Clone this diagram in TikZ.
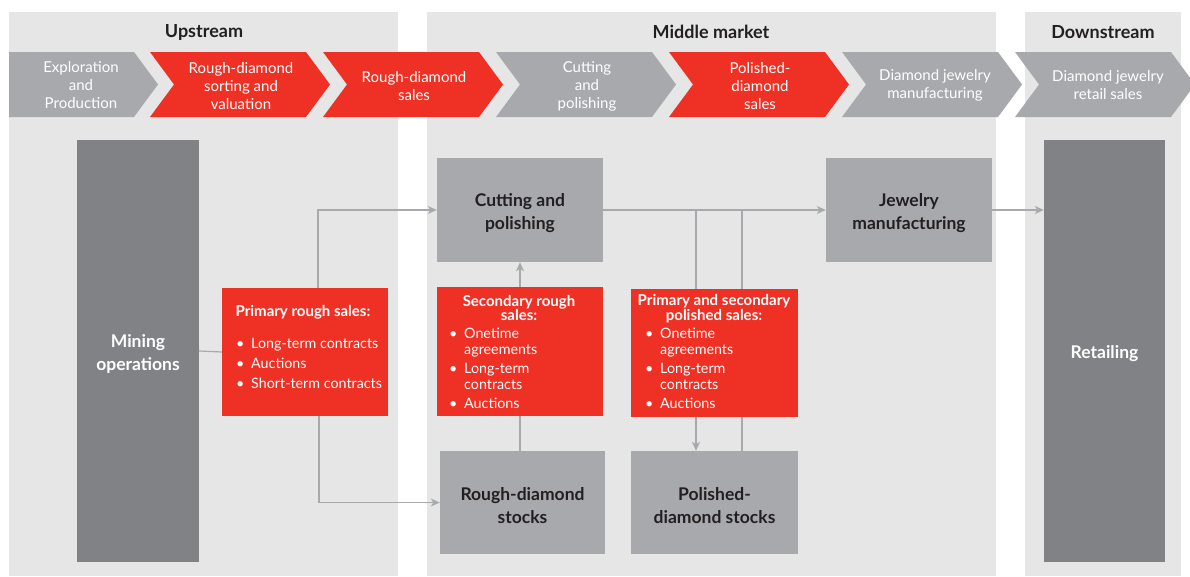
\documentclass[tikz,border=0pt]{standalone}
\usepackage{fontspec}
\setmainfont{Lato}
\usetikzlibrary{arrows.meta}
\definecolor{panel}{HTML}{E6E6E7}
\definecolor{boxgray}{HTML}{A7A9AC}
\definecolor{darkgray}{HTML}{808285}
\definecolor{bainred}{HTML}{EE3124}
\definecolor{txtdark}{HTML}{231F20}
\definecolor{linegray}{HTML}{A7A9AC}
\newcommand{\chevshape}[2]{\fill[#2] (#1,52) -- ++(156,0) -- ++(24,32.5) -- ++(-24,32.5) -- ++(-156,0) -- ++(24,-32.5) -- cycle;}
\newcommand{\bul}{\makebox[15pt][l]{\textbullet}}
\newcommand{\ind}{\hspace*{15pt}}
\begin{document}
\begin{tikzpicture}[x=1pt,y=-1pt,
  headtext/.style={font=\bfseries\fontsize{18}{20}\selectfont, text=txtdark, inner sep=0},
  chevtext/.style={font=\fontsize{15}{18}\selectfont, text=white, align=center, inner sep=0},
  graybox/.style={fill=boxgray, inner sep=0},
  darkbox/.style={fill=darkgray, inner sep=0},
  boxtext/.style={font=\bfseries\fontsize{17.5}{23}\selectfont, text=txtdark, align=center, inner sep=0, yshift=-3pt},
  darktext/.style={boxtext, text=white},
  redbox/.style={fill=bainred, inner sep=0},
  redhead/.style={font=\bfseries\fontsize{15}{14.5}\selectfont, text=white, align=center, inner sep=0},
  redlist/.style={font=\fontsize{14.3}{16}\selectfont, text=white, align=left, inner sep=0},
  conn/.style={draw=linegray, line width=1.2pt},
  arr/.style={conn, -{Stealth[length=9pt,width=8pt,inset=2.5pt]}}
]
\useasboundingbox (0,0) rectangle (1190,576);
\clip (0,0) rectangle (1190,576);
\fill[white] (0,0) rectangle (1190,576);
% panels
\fill[panel] (9,12) rectangle (398,576);
\fill[panel] (427,12) rectangle (996,576);
\fill[panel] (1025,12) rectangle (1181,576);
\node[headtext] (hup) at (204,32) {Upstream};
\node[headtext] (hmid) at (711,32) {Middle market};
\node[headtext] (hdown) at (1103,32) {Downstream};
% chevrons
\fill[boxgray] (9,52) -- (134,52) -- (158,84.5) -- (134,117) -- (9,117) -- cycle;
\chevshape{150}{bainred}
\chevshape{323}{bainred}
\chevshape{496}{boxgray}
\chevshape{669}{bainred}
\chevshape{842}{boxgray}
\chevshape{1015}{boxgray}
\node[chevtext] (c1) at (81,85) {Exploration\\and\\Production};
\node[chevtext] (c2) at (241,86.5) {Rough-diamond\\sorting and\\valuation};
\node[chevtext] (c3) at (414,86.5) {Rough-diamond\\sales};
\node[chevtext] (c4) at (587,86) {Cutting\\and\\polishing};
\node[chevtext] (c5) at (760,86.5) {Polished-\\diamond\\sales};
\node[chevtext] (c6) at (935,85.5) {Diamond jewelry\\manufacturing};
\node[chevtext] (c7) at (1108,85.5) {Diamond jewelry\\retail sales};
% main boxes
\node[darkbox, minimum width=122pt, minimum height=422pt] (mining) at (138,351) {};
\node[darkbox, minimum width=121pt, minimum height=422pt] (retail) at (1104.5,351) {};
\node[graybox, minimum width=166pt, minimum height=104pt] (cutting) at (520,210) {};
\node[graybox, minimum width=166pt, minimum height=104pt] (jewelry) at (909,210) {};
\node[graybox, minimum width=165pt, minimum height=103pt] (rstocks) at (522.5,502.5) {};
\node[graybox, minimum width=167pt, minimum height=103pt] (pstocks) at (714.5,502.5) {};
\node[darktext] (miningtxt) at (mining.center) {Mining\\operations};
\node[darktext] (retailtxt) at (retail.center) {Retailing};
\node[boxtext] (cuttingtxt) at (cutting.center) {Cutting and\\polishing};
\node[boxtext] (jewelrytxt) at (jewelry.center) {Jewelry\\manufacturing};
\node[boxtext] (rstockstxt) at (rstocks.center) {Rough-diamond\\stocks};
\node[boxtext] (pstockstxt) at (pstocks.center) {Polished-\\diamond stocks};
\node[redbox, minimum width=166pt, minimum height=128pt] (primary) at (305,352) {};
\node[redbox, minimum width=166pt, minimum height=129pt] (secondary) at (520,351.5) {};
\node[redbox, minimum width=167pt, minimum height=128pt] (polsales) at (714.5,353) {};
% red box texts
\node[redhead] (primaryhead) at (303,312) {Primary rough sales:};
\node[redlist, anchor=north west, font=\fontsize{14.3}{20}\selectfont] (primarylist) at (236,338.5) {\bul Long-term contracts\\\bul Auctions\\\bul Short-term contracts};
\node[redhead] (secondhead) at (519,308) {Secondary rough\\sales:};
\node[redlist, anchor=north west] (secondlist) at (449,327.5) {\bul Onetime\\\ind agreements\\[3pt]\bul Long-term\\\ind contracts\\[3pt]\bul Auctions};
\node[redhead] (polhead) at (714,308.5) {Primary and secondary\\polished sales:};
\node[redlist, anchor=north west] (pollist) at (645,327.5) {\bul Onetime\\\ind agreements\\[3pt]\bul Long-term\\\ind contracts\\[3pt]\bul Auctions};
% connectors
\draw[conn] (mining.east) -- (primary.west);
\draw[arr] ([xshift=13pt]primary.north) |- (cutting.west);
\draw[arr] ([xshift=14pt]primary.south) |- (rstocks.west);
\draw[conn] (rstocks.north -| secondary.south) -- (secondary.south);
\draw[arr] (secondary.north) -- (cutting.south);
\draw[arr] (cutting.east) -- (jewelry.west);
\draw[arr] (jewelry.east) -- (jewelry.east -| retail.west);
\coordinate (pa) at ([xshift=-18.5pt]polsales.north);
\coordinate (pb) at ([xshift=27.5pt]polsales.north);
\draw[conn] (pa |- cutting.east) -- (pa);
\draw[conn] (pb |- cutting.east) -- (pb);
\draw[arr] (pa |- polsales.south) -- (pa |- pstocks.north);
\draw[conn] (pb |- pstocks.north) -- (pb |- polsales.south);
\end{tikzpicture}
\end{document}
